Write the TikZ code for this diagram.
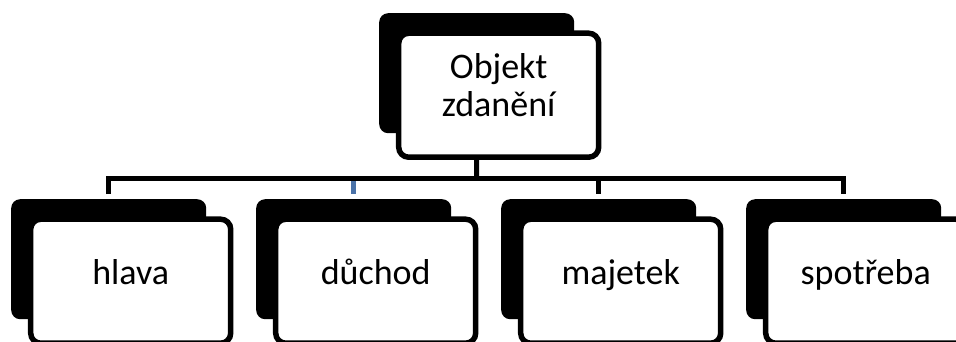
\documentclass[tikz,border=0pt]{standalone}
\usepackage{fontspec}
\setmainfont{Carlito}
\usepackage{tikz}
\usetikzlibrary{positioning}
\definecolor{droplink}{HTML}{4A72A8}

\begin{document}
\begin{tikzpicture}[x=1pt,y=-1pt]
	\tikzstyle{every node}=[font=\fontsize{36}{38}\selectfont]
	\tikzstyle{shadowbox}=[anchor=north west,fill=black,rounded corners=9pt,minimum width=195pt,minimum height=120pt,inner sep=0pt]
	\tikzstyle{frontbox}=[fill=white,draw=black,line width=5.5pt,rounded corners=10pt,minimum width=200pt,minimum height=124pt,inner sep=0pt,align=center]
	\tikzstyle{link}=[line width=5pt]
	\clip (0,0) rectangle (956,341);

	% black boxes behind
	\node[shadowbox] (s0) at (379,13) {};
	\node[shadowbox] (s1) at (11,199) {};
	\node[shadowbox] (s2) at (256,199) {};
	\node[shadowbox] (s3) at (501,199) {};
	\node[shadowbox] (s4) at (746,199) {};

	% white boxes with text
	\node[frontbox,xshift=22pt,yshift=-22pt,text depth=20pt] (n0) at (s0.center) {Objekt\\zdanění};
	\node[frontbox,xshift=22pt,yshift=-22pt,text height=23pt,text depth=16pt] (n1) at (s1.center) {hlava};
	\node[frontbox,xshift=22pt,yshift=-22pt,text height=23pt,text depth=16pt] (n2) at (s2.center) {důchod};
	\node[frontbox,xshift=22pt,yshift=-22pt,text height=23pt,text depth=16pt] (n3) at (s3.center) {majetek};
	\node[frontbox,xshift=22pt,yshift=-22pt,text height=23pt,text depth=16pt] (n4) at (s4.center) {spotřeba};

	% tree lines
	\coordinate (bus) at (476.5,178.5);
	\draw[link,droplink] (bus -| s2.north) -- ([yshift=5pt]s2.north);
	\draw[link] (n0.south -| s0.center) -- (bus);
	\draw[link] ([yshift=5pt]s1.north) |- (bus -| s4.north) -- ([yshift=5pt]s4.north);
	\draw[link] (bus -| s3.north) -- ([yshift=5pt]s3.north);
\end{tikzpicture}
\end{document}
